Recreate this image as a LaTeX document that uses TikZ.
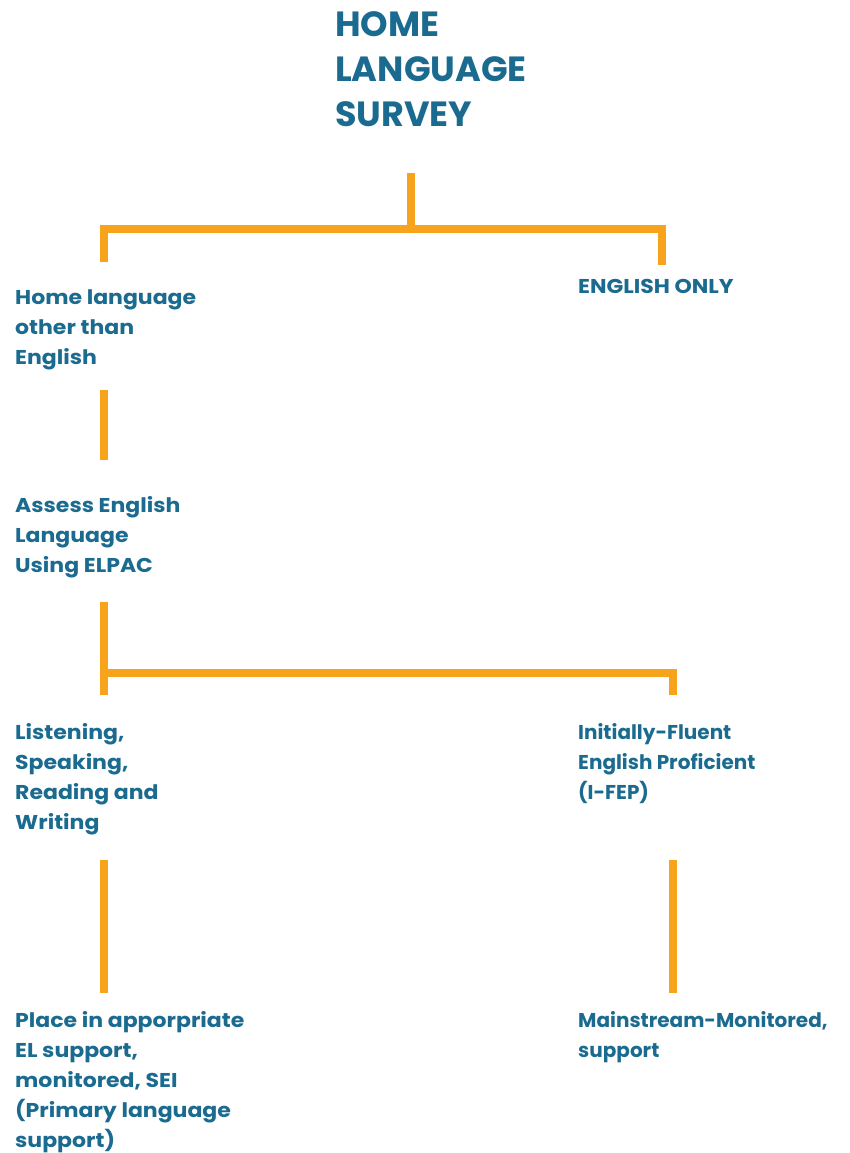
\documentclass[tikz,border=0pt]{standalone}
\usepackage{fontspec}
\setmainfont{Poppins}
\newfontfamily\lblfont{Poppins}[FakeStretch=1.1]
\newfontfamily\lblnarrow{Poppins}
\definecolor{txt}{HTML}{1A6B8F}
\definecolor{org}{HTML}{F7A31C}
\begin{document}
\begin{tikzpicture}[x=1pt,y=-1pt,
  lbl/.style={anchor=base west, inner sep=0pt, align=left, text=txt, font=\lblfont\fontsize{20}{30}\selectfont\bfseries},
  lbln/.style={lbl, font=\lblnarrow\fontsize{20}{30}\selectfont\bfseries},
  ttl/.style={anchor=base west, inner sep=0pt, align=left, text=txt, font=\fontsize{35}{45}\selectfont\bfseries},
  conn/.style={draw=org, line width=8pt, line join=miter}]
\useasboundingbox (0,0) rectangle (849,1153);
% base anchor = baseline of the last line
\node[ttl] (t) at (335,127) {HOME\\LANGUAGE\\SURVEY};
\node[lbl] (a) at (15,364) {Home language\\other than\\English};
\node[lbl] (b) at (578,293) {ENGLISH ONLY};
\node[lbl] (c) at (15,572) {Assess English\\Language\\Using ELPAC};
\node[lbl] (d) at (15,829) {Listening,\\Speaking,\\Reading and\\Writing};
\node[lbln] (e) at (578,799) {Initially-Fluent\\English Proficient\\(I-FEP)};
\node[lbl] (f) at (15,1147) {Place in apporpriate\\EL support,\\monitored, SEI\\(Primary language\\support)};
\node[lbln] (g) at (578,1057) {Mainstream-Monitored,\\support};
% connectors
\coordinate (t1) at (411,173);
\coordinate (j1) at (411,229);
\coordinate (lc) at (104,229);
\coordinate (rc) at (662,229);
\coordinate (l1) at (104,262);
\coordinate (r1) at (662,265);
\draw[conn] (t1) -- (j1);
\draw[conn] (l1) -- (lc) -- (rc) -- (r1);
\coordinate (a1) at (104,390);
\coordinate (a2) at (104,460);
\draw[conn] (a1) -- (a2);
\coordinate (c1) at (104,602);
\coordinate (c2) at (104,695);
\coordinate (cj) at (104,673);
\coordinate (cr) at (673,673);
\coordinate (cr2) at (673,695);
\draw[conn] (c1) -- (c2);
\draw[conn] (cj) -- (cr) -- (cr2);
\coordinate (d1) at (104,860);
\coordinate (d2) at (104,993);
\draw[conn] (d1) -- (d2);
\coordinate (e1) at (673,860);
\coordinate (e2) at (673,993);
\draw[conn] (e1) -- (e2);
\end{tikzpicture}
\end{document}
